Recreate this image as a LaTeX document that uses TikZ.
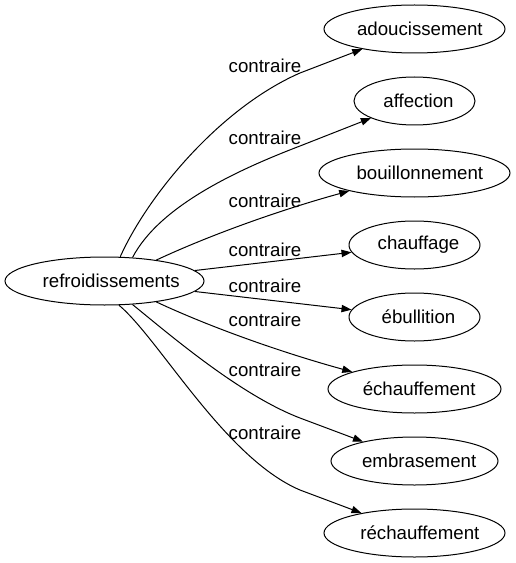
\documentclass[tikz,border=0pt]{standalone}
\usepackage{fontspec}
\setmainfont{Liberation Sans}
\usetikzlibrary{shapes.geometric,arrows.meta}
\newcommand{\shtxt}[2]{\makebox[0pt]{\hspace*{#1}#2}}
\begin{document}
\begin{tikzpicture}[x=0.75pt,y=-0.75pt,
  word/.style={draw,ellipse,line width=0.75pt,inner sep=0pt,minimum height=36pt,font=\fontsize{14}{16}\selectfont},
  lbl/.style={inner sep=0pt,font=\fontsize{14}{16}\selectfont},
  edge/.style={draw,line width=0.75pt,-{Triangle[length=7.5pt,width=5.5pt]}}]
\useasboundingbox (0,0) rectangle (516,563);
\node[word,minimum width=149.25pt] (s) at (104.5,281) {\shtxt{10pt}{refroidissements}};
\node[word,minimum width=135.75pt] (t1) at (414.5,29) {\shtxt{8pt}{adoucissement}};
\node[word,minimum width=90.75pt] (t2) at (414.5,101) {\shtxt{6pt}{affection}};
\node[word,minimum width=143.25pt] (t3) at (414.5,173) {\shtxt{8pt}{bouillonnement}};
\node[word,minimum width=98.25pt] (t4) at (414.5,245) {\shtxt{6pt}{chauffage}};
\node[word,minimum width=98.25pt] (t5) at (414.5,317) {\shtxt{6pt}{ébullition}};
\node[word,minimum width=129.75pt] (t6) at (414.5,389) {\shtxt{7pt}{échauffement}};
\node[word,minimum width=125.25pt] (t7) at (414.5,461) {\shtxt{7pt}{embrasement}};
\node[word,minimum width=135.75pt] (t8) at (414.5,533) {\shtxt{8pt}{réchauffement}};
\node[lbl] (l1) at (265,66) {contraire};
\node[lbl] (l2) at (265,138) {contraire};
\node[lbl] (l3) at (265,200.5) {contraire};
\node[lbl] (l4) at (265,249.5) {contraire};
\node[lbl] (l5) at (265,286) {contraire};
\node[lbl] (l6) at (265,319.5) {contraire};
\node[lbl] (l7) at (265,369.5) {contraire};
\node[lbl] (l8) at (265,432.5) {contraire};
\draw[edge] (s.57) .. controls (148,195) and (220,108) .. (300,73) -- (t1);
\draw[edge] (s.40) .. controls (160,205) and (240,169) .. (300,146) -- (t2);
\draw[edge] (s.22) .. controls (210,235) and (280,210) .. (t3);
\draw[edge] (s) -- (t4);
\draw[edge] (s) -- (t5);
\draw[edge] (s.-22) .. controls (210,327) and (280,352) .. (t6);
\draw[edge] (s.-40) .. controls (170,335) and (240,395) .. (300,418) -- (t7);
\draw[edge] (s.-59) .. controls (160,340) and (225,458) .. (300,490) -- (t8);
\end{tikzpicture}
\end{document}
